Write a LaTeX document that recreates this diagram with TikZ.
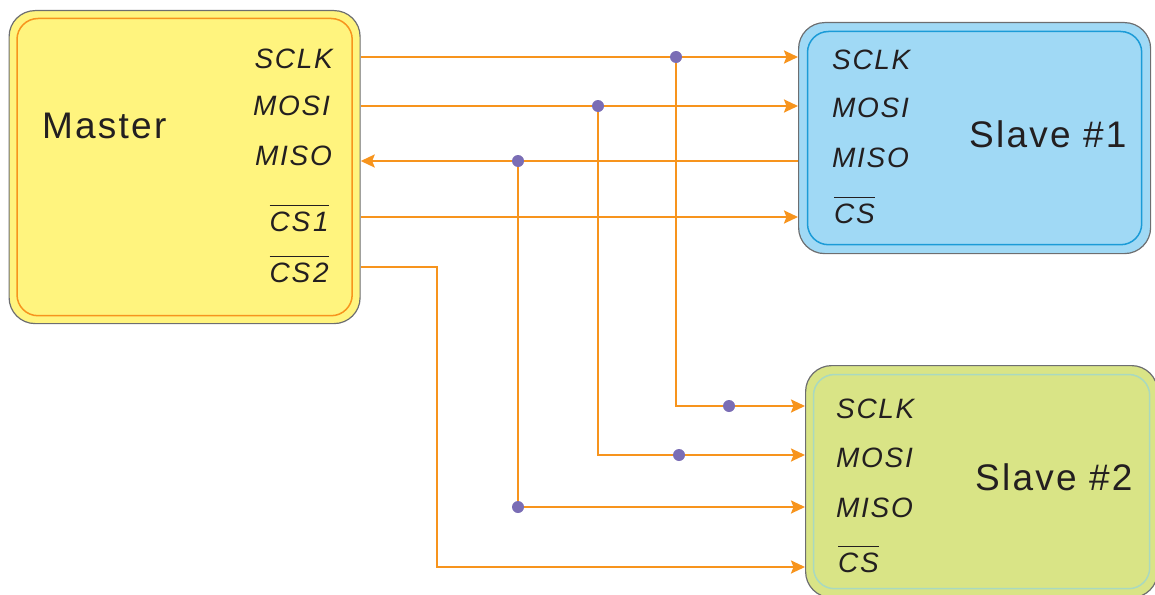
\documentclass[tikz,border=0pt]{standalone}
\usepackage{fontspec}
\setmainfont{Liberation Sans}
\newfontfamily\lblfam[LetterSpace=6]{Liberation Sans}
\newfontfamily\bigfam[LetterSpace=6]{Liberation Sans}
\usetikzlibrary{arrows.meta}
\definecolor{wirec}{HTML}{F7941D}
\definecolor{dotc}{HTML}{7A6DB5}
\definecolor{edgec}{HTML}{6D6E70}
\definecolor{txt}{HTML}{231F20}
\definecolor{mfill}{HTML}{FFF47E}
\definecolor{minner}{HTML}{F7941D}
\definecolor{sonefill}{HTML}{A0D9F5}
\definecolor{soneinner}{HTML}{1B9BD7}
\definecolor{stwofill}{HTML}{D9E486}
\definecolor{stwoinner}{HTML}{A9D9C0}
\newcommand\ovl[1]{\vbox{\hrule height 0.9pt\kern 6pt\hbox{#1}}}
\tikzset{
  outerbox/.style={draw=edgec, line width=1.2pt, rounded corners=26pt, inner sep=0pt, anchor=north west},
  innerline/.style={line width=1.5pt, rounded corners=21pt},
  wire/.style={draw=wirec, line width=2.3pt},
  arr/.style={-{Stealth[length=14pt,width=13pt,inset=2.5pt]}},
  dot/.style={circle, fill=dotc, inner sep=0pt, minimum size=12pt},
  lab/.style={font=\lblfam\itshape\fontsize{28}{32}\selectfont, text=txt, inner sep=0pt},
  big/.style={font=\bigfam\fontsize{37}{42}\selectfont, text=txt, inner sep=0pt, anchor=base west},
}
\begin{document}
\begin{tikzpicture}[x=1pt,y=-1pt]
\useasboundingbox (0,0) rectangle (1155,594);
% boxes
\node[outerbox, fill=mfill, minimum width=351pt, minimum height=313pt] (master) at (8.5,10) {};
\draw[innerline, draw=minner] ([shift={(8.5,8.5)}]master.north west) rectangle ([shift={(-8.5,-8.5)}]master.south east);
\node[outerbox, fill=sonefill, minimum width=352pt, minimum height=231pt] (s1) at (798,22) {};
\draw[innerline, draw=soneinner] ([shift={(9.5,9.5)}]s1.north west) rectangle ([shift={(-9.5,-9.5)}]s1.south east);
\node[outerbox, fill=stwofill, minimum width=352pt, minimum height=232pt] (s2) at (805,365) {};
\draw[innerline, draw=stwoinner] ([shift={(8.5,9.5)}]s2.north west) rectangle ([shift={(-8.5,-9.5)}]s2.south east);
% titles
\node[big] (mt) at (42,138) {Master};
\node[big] (s1t) at (969,147) {Slave \#1};
\node[big] (s2t) at (975,490) {Slave \#2};
% master labels
\node[lab, anchor=base east] (msclk) at (333,68) {SCLK};
\node[lab, anchor=base east] (mmosi) at (330,115) {MOSI};
\node[lab, anchor=base east] (mmiso) at (332,165) {MISO};
\node[lab, anchor=base east] (mcsa) at (329,231) {\ovl{CS\kern3pt 1}};
\node[lab, anchor=base east] (mcsb) at (329,282) {\ovl{CS\kern3pt 2}};
% slave 1 labels
\node[lab, anchor=base west] (asclk) at (832,70) {SCLK};
\node[lab, anchor=base west] (amosi) at (832,117) {MOSI};
\node[lab, anchor=base west] (amiso) at (832,167) {MISO};
\node[lab, anchor=base west] (acs) at (834,223) {\ovl{CS}};
% slave 2 labels
\node[lab, anchor=base west] (bsclk) at (836,418) {SCLK};
\node[lab, anchor=base west] (bmosi) at (836,467) {MOSI};
\node[lab, anchor=base west] (bmiso) at (836,517) {MISO};
\node[lab, anchor=base west] (bcs) at (838,572) {\ovl{CS}};
% junctions
\coordinate (jsclk) at (676,57);
\coordinate (jmosi) at (598,106);
\coordinate (jmiso) at (518,161);
\coordinate (jcs) at (437,267);
% wires
\draw[wire,arr] (master.east |- jsclk) -- (s1.west |- jsclk);
\draw[wire,arr] (master.east |- jmosi) -- (s1.west |- jmosi);
\draw[wire,arr] (s1.west |- jmiso) -- (master.east |- jmiso);
\draw[wire,arr] (master.east |- 0,217) -- (s1.west |- 0,217);
\draw[wire,arr] (master.east |- jcs) -- (jcs) |- (s2.west |- 0,567);
\draw[wire,arr] (jsclk) |- (s2.west |- 0,406);
\draw[wire,arr] (jmosi) |- (s2.west |- 0,455);
\draw[wire,arr] (jmiso) |- (s2.west |- 0,507);
% dots
\node[dot] (dsclk) at (jsclk) {};
\node[dot] (dmosi) at (jmosi) {};
\node[dot] (dmiso) at (jmiso) {};
\node[dot] (dsclkb) at (729,406) {};
\node[dot] (dmosib) at (679,455) {};
\node[dot] (dmisob) at (518,507) {};
\end{tikzpicture}
\end{document}
